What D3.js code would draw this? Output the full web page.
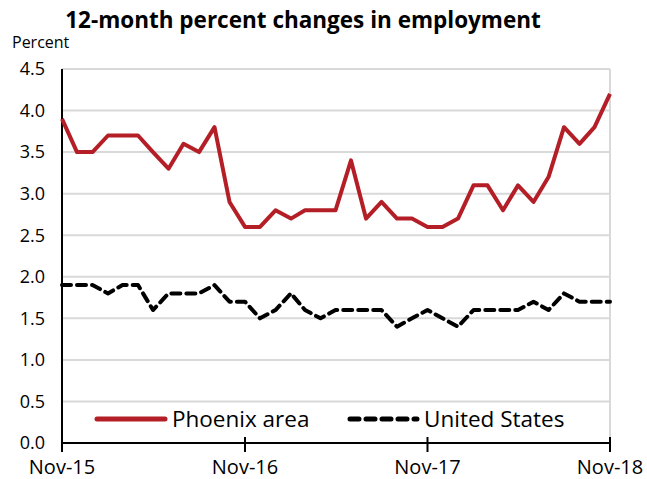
<!DOCTYPE html>
<html>
<head>
<meta charset="utf-8">
<script src="https://cdn.jsdelivr.net/npm/d3@7"></script>
<style>
  html, body { margin: 0; padding: 0; background: #fff; }
  svg { display: block; font-family: "Open Sans", "Noto Sans", sans-serif; }
</style>
</head>
<body>
<svg id="chart" width="647" height="479"></svg>
<script>
(function () {
  'use strict';

  // Monthly observations, Nov-15 through Nov-18
  const months = d3.range(37).map(i => new Date(2015, 10 + i, 1));
  const phoenix = [
    3.9, 3.5, 3.5, 3.7, 3.7, 3.7, 3.5, 3.3, 3.6, 3.5, 3.8, 2.9,
    2.6, 2.6, 2.8, 2.7, 2.8, 2.8, 2.8, 3.4, 2.7, 2.9, 2.7, 2.7,
    2.6, 2.6, 2.7, 3.1, 3.1, 2.8, 3.1, 2.9, 3.2, 3.8, 3.6, 3.8,
    4.2
  ];
  const unitedStates = [
    1.9, 1.9, 1.9, 1.8, 1.9, 1.9, 1.6, 1.8, 1.8, 1.8, 1.9, 1.7,
    1.7, 1.5, 1.6, 1.8, 1.6, 1.5, 1.6, 1.6, 1.6, 1.6, 1.4, 1.5,
    1.6, 1.5, 1.4, 1.6, 1.6, 1.6, 1.6, 1.7, 1.6, 1.8, 1.7, 1.7,
    1.7
  ];
  const yTicks = [0, 0.5, 1, 1.5, 2, 2.5, 3, 3.5, 4, 4.5];
  const xTicks = [new Date(2015, 10, 1), new Date(2016, 10, 1), new Date(2017, 10, 1), new Date(2018, 10, 1)];
  const seriesNames = ['Phoenix area', 'United States'];

  const RED = '#b41f27';
  const GRID = '#d9d9d9';

  const svg = d3.select('#chart');
  const margin = { left: 62, right: 37, top: 69, bottom: 36 };
  const W = 647, H = 479;

  const x = d3.scaleTime()
    .domain([months[0], months[months.length - 1]])
    .range([margin.left, W - margin.right]);
  const y = d3.scaleLinear()
    .domain([0, 4.5])
    .range([H - margin.bottom, margin.top]);

  // Title + unit label
  svg.append('text')
    .attr('x', 303).attr('y', 28)
    .attr('text-anchor', 'middle')
    .attr('font-size', 22.5).attr('font-weight', 700)
    .text('12-month percent changes in employment');
  svg.append('text')
    .attr('x', 12).attr('y', 48)
    .attr('font-size', 16)
    .text('Percent');

  // Gridlines
  svg.append('g').selectAll('line')
    .data(yTicks.filter(d => d > 0))
    .join('line')
    .attr('x1', margin.left).attr('x2', W - margin.right)
    .attr('y1', d => y(d)).attr('y2', d => y(d))
    .attr('stroke', GRID).attr('stroke-width', 2);

  // Right border
  svg.append('line')
    .attr('x1', x.range()[1]).attr('x2', x.range()[1])
    .attr('y1', y(4.5)).attr('y2', y(0))
    .attr('stroke', GRID).attr('stroke-width', 2);

  // Y axis labels
  svg.append('g').selectAll('text')
    .data(yTicks)
    .join('text')
    .attr('x', 45).attr('y', d => y(d))
    .attr('dy', '0.35em')
    .attr('text-anchor', 'end')
    .attr('font-size', 18)
    .text(d => d.toFixed(1));

  // Axes lines
  svg.append('line')
    .attr('x1', margin.left).attr('x2', margin.left)
    .attr('y1', y(4.5)).attr('y2', y(0))
    .attr('stroke', '#000').attr('stroke-width', 2);
  svg.append('line')
    .attr('x1', margin.left).attr('x2', x.range()[1])
    .attr('y1', y(0)).attr('y2', y(0))
    .attr('stroke', '#000').attr('stroke-width', 2);

  const xt = svg.append('g').selectAll('g')
    .data(xTicks)
    .join('g')
    .attr('transform', d => `translate(${x(d)},${y(0)})`);
  xt.append('line')
    .attr('y1', -6).attr('y2', 9)
    .attr('stroke', '#000').attr('stroke-width', 2);
  xt.append('text')
    .attr('y', 24).attr('dy', '0.35em')
    .attr('text-anchor', 'middle')
    .attr('font-size', 20)
    .text(d => d3.timeFormat('%b-%y')(d));

  // Series lines
  const line = d3.line()
    .x((d, i) => x(months[i]))
    .y(d => y(d));

  svg.append('path')
    .datum(unitedStates)
    .attr('d', line)
    .attr('fill', 'none')
    .attr('stroke', '#000')
    .attr('stroke-width', 4)
    .attr('stroke-dasharray', '9,6')
    .attr('stroke-linecap', 'round')
    .attr('stroke-linejoin', 'round');

  svg.append('path')
    .datum(phoenix)
    .attr('d', line)
    .attr('fill', 'none')
    .attr('stroke', RED)
    .attr('stroke-width', 4)
    .attr('stroke-linejoin', 'round');

  // Legend
  const leg = svg.append('g').attr('transform', 'translate(0,419)');
  leg.append('line')
    .attr('x1', 97).attr('x2', 165)
    .attr('stroke', RED).attr('stroke-width', 5)
    .attr('stroke-linecap', 'round');
  leg.append('text')
    .attr('x', 172).attr('dy', '0.35em')
    .attr('font-size', 22.5)
    .text(seriesNames[0]);
  leg.append('line')
    .attr('x1', 350).attr('x2', 417)
    .attr('stroke', '#000').attr('stroke-width', 5)
    .attr('stroke-dasharray', '9,7')
    .attr('stroke-linecap', 'round');
  leg.append('text')
    .attr('x', 424).attr('dy', '0.35em')
    .attr('font-size', 22.5)
    .text(seriesNames[1]);
})();
</script>
</body>
</html>
